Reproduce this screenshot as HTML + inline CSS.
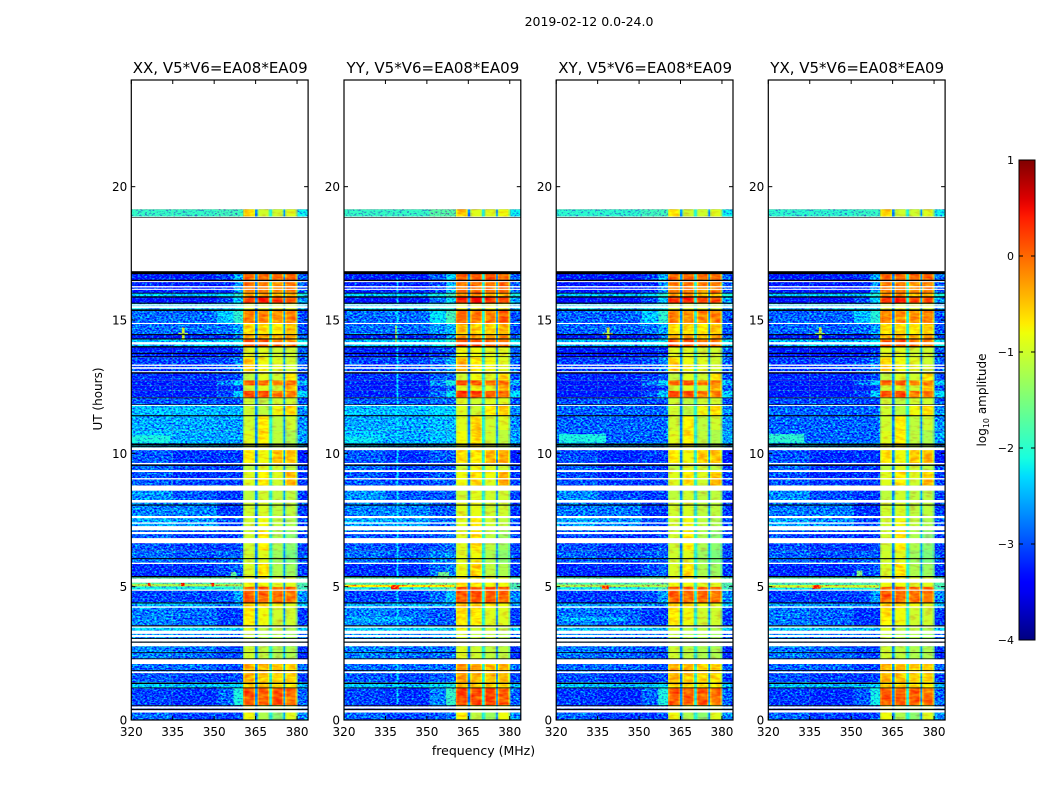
<!DOCTYPE html>
<html>
<head>
<meta charset="utf-8">
<title>2019-02-12 0.0-24.0</title>
<style>
html,body{margin:0;padding:0;background:#fff;}
svg{display:block;font-family:"DejaVu Sans","Liberation Sans",sans-serif;}
text{fill:#000;}
</style>
</head>
<body>
<svg id="fig" xmlns="http://www.w3.org/2000/svg" width="1050" height="800" viewBox="0 0 1050 800">
  <defs>
    <filter id="grain" filterUnits="userSpaceOnUse" x="0" y="0" width="1050" height="800" color-interpolation-filters="sRGB">
      <feTurbulence type="fractalNoise" baseFrequency="0.42 0.6" numOctaves="2" seed="7" result="n"/>
      <feColorMatrix in="n" type="matrix" values="0 0 0 0 0.5  1 0 0 0 0  0 0 0 0 0.5  0 0 0 0 1" result="g"/>
      <feComposite in="SourceGraphic" in2="g" operator="arithmetic" k1="0" k2="1" k3="2.2" k4="-1.1" result="c"/>
      <feComposite in="c" in2="SourceAlpha" operator="in"/>
    </filter>
    <filter id="grainSoft" filterUnits="userSpaceOnUse" x="0" y="0" width="1050" height="800" color-interpolation-filters="sRGB">
      <feTurbulence type="fractalNoise" baseFrequency="0.12 0.35" numOctaves="2" seed="3" result="n"/>
      <feColorMatrix in="n" type="matrix" values="0 0 0 0 0.5  1 0 0 0 0  0 0 0 0 0.5  0 0 0 0 1" result="g"/>
      <feComposite in="SourceGraphic" in2="g" operator="arithmetic" k1="0" k2="1" k3="0.7" k4="-0.35" result="c"/>
      <feComposite in="c" in2="SourceAlpha" operator="in"/>
    </filter>
    <linearGradient id="jetGrad" x1="0" y1="1" x2="0" y2="0"></linearGradient>
  </defs>
  <text x="589" y="26" font-size="12.5" text-anchor="middle">2019-02-12 0.0-24.0</text>
  <text x="483.5" y="755" font-size="12.5" text-anchor="middle">frequency (MHz)</text>
  <text x="0" y="0" font-size="12" text-anchor="middle" transform="translate(102,399) rotate(-90)">UT (hours)</text>
  <text x="0" y="0" font-size="12" text-anchor="middle" transform="translate(986,400) rotate(-90)">log<tspan font-size="8" dy="3">10</tspan><tspan dy="-3"> amplitude</tspan></text>
</svg>
<script>
// ---- chart data ----
const panelTitles = ["XX, V5*V6=EA08*EA09", "YY, V5*V6=EA08*EA09", "XY, V5*V6=EA08*EA09", "YX, V5*V6=EA08*EA09"];
const freqTicks = [320, 335, 350, 365, 380];
const hourTicks = [0, 5, 10, 15, 20];
const cbarTicks = [1, 0, -1, -2, -3, -4];
const cbarTickLabels = ["1", "0", "\u22121", "\u22122", "\u22123", "\u22124"];

// frequency channels (MHz): low band pieces, then the four bright blocks, then the tail
const lowChannels = [[320, 335], [335, 351], [351, 357], [357, 360.5]];
const blockChannels = [[360.5, 364.8], [365.7, 370], [370.9, 375.1], [375.7, 379.9]];
const tailChannel = [380.2, 384];
// log10 amplitude in the narrow gaps between blocks
const gapLevels = [-2.7, -2.1, -2.6, -1.6];

// time bands: hourStart, hourEnd, then log10 amplitude for 4 low channels, 4 blocks, tail
const bands = [
  [0.00, 0.30, -2.4, -2.6, -2.7, -2.6, -0.6, -1.0, -1.2, -0.7, -2.4],
  [0.30, 0.56, -2.6, -2.6, -2.6, -2.6, -0.5, -0.8, -0.9, -0.8, -2.6],
  [0.56, 1.20, -2.6, -2.7, -2.5, -1.7,  0.3,  0.25, 0.3,  0.15,-2.6],
  [1.20, 1.42, -1.9, -2.0, -2.0, -1.9, -0.3, -0.4, -0.4, -0.5, -2.2],
  [1.42, 1.75, -2.5, -2.6, -2.7, -2.6, -0.2, -0.3, -0.4, -0.4, -2.8],
  [1.75, 2.10, -2.4, -2.4, -2.6, -2.6, -0.15,-0.2, -0.3, -0.3, -2.6],
  [2.10, 2.75, -2.3, -2.4, -2.6, -2.6, -0.8, -0.9, -1.0, -1.0, -2.9],
  [2.75, 3.30, -2.2, -2.3, -2.4, -2.4, -0.9, -1.0, -1.0, -1.1, -2.6],
  [3.30, 3.55, -1.9, -1.9, -2.0, -2.1, -0.7, -0.9, -0.9, -1.0, -2.1],
  [3.55, 4.20, -2.3, -2.4, -2.7, -2.7, -0.5, -0.6, -0.8, -0.8, -2.8],
  [4.20, 4.40, -2.1, -2.1, -2.3, -2.3, -0.3, -0.4, -0.6, -0.7, -2.2],
  [4.40, 4.85, -2.6, -2.6, -2.6, -2.2,  0.25, 0.2,  0.2,  0.1, -2.4],
  [4.85, 5.00, -1.7, -1.7, -1.7, -1.5,  0.25, 0.25, 0.25, 0.25,-1.6],
  [5.00, 5.35, -1.3, -1.3, -1.3, -1.3, -0.6, -0.6, -0.7, -0.7, -1.5],
  [5.35, 5.90, -2.7, -2.7, -2.6, -2.5, -0.75,-0.45,-1.0, -1.1, -2.8],
  [5.90, 6.35, -2.4, -2.5, -2.5, -2.5, -0.8, -0.7, -1.1, -1.3, -2.7],
  [6.35, 7.10, -2.5, -2.6, -2.7, -2.6, -0.8, -0.5, -1.0, -1.2, -2.8],
  [7.10, 7.65, -2.1, -2.2, -2.6, -2.6, -0.8, -0.6, -0.9, -1.0, -2.7],
  [7.65, 8.25, -2.3, -2.3, -2.7, -2.7, -0.8, -0.75,-0.9, -0.9, -2.8],
  [8.25, 8.80, -2.2, -2.5, -2.7, -2.7, -0.9, -0.8, -0.9, -0.9, -2.8],
  [8.80, 9.07, -2.5, -2.6, -2.7, -2.7, -0.7, -0.5, -0.8, -0.2, -2.8],
  [9.07, 9.37, -2.5, -2.7, -2.7, -2.7, -0.7, -0.5, -0.7, -0.3, -2.8],
  [9.37, 9.63, -2.4, -2.6, -2.7, -2.7, -0.9, -0.7, -0.8, -0.9, -2.8],
  [9.63, 10.22,-2.5, -2.7, -2.7, -2.7, -0.5, -0.6, -0.3, -0.25,-3.0],
  [10.22,10.87,-2.0, -2.1, -2.2, -2.2, -0.7, -0.5, -0.9, -1.0, -2.3],
  [10.87,11.40,-2.1, -2.1, -2.2, -2.2, -0.8, -0.5, -0.9, -0.8, -2.4],
  [11.40,11.82,-2.0, -2.0, -2.1, -2.1, -0.8, -0.9, -0.6, -0.4, -2.4],
  [11.82,12.10,-2.5, -2.5, -2.6, -2.6, -0.8, -0.9, -0.8, -0.8, -2.7],
  [12.10,12.35,-2.8, -2.8, -2.6, -2.0,  0.35, 0.35, 0.1,  0.1, -2.0],
  [12.35,12.55,-2.8, -2.8, -2.8, -2.7, -0.8, -0.7, -0.8, -0.2, -2.7],
  [12.55,12.74,-2.8, -2.8, -2.4, -1.9,  0.25, 0.25, 0.1,  0.1, -2.2],
  [12.74,13.04,-2.7, -2.7, -2.7, -2.6, -0.9, -0.7, -0.8, -0.5, -2.7],
  [13.04,13.60,-2.6, -2.6, -2.6, -2.3, -0.3, -0.6, -0.7, -0.8, -2.6],
  [13.60,14.00,-2.8, -2.8, -2.8, -2.7, -0.7, -0.7, -0.8, -0.8, -2.6],
  [14.00,14.28,-2.0, -2.0, -2.0, -1.8,  0.3,  0.3,  0.1,  0.1, -1.9],
  [14.28,14.47,-2.8, -2.8, -2.8, -2.4, -0.2, -0.1, -0.2, -0.1, -2.6],
  [14.47,14.88,-2.4, -2.4, -2.4, -2.2, -0.4, -0.4, -0.5, -0.3, -2.7],
  [14.88,15.37,-2.4, -2.4, -2.0, -1.6,  0.1,  0.0,  0.0,  0.1, -2.7],
  [15.37,15.62,-1.9, -1.9, -1.9, -1.8, -0.7, -0.7, -0.7, -0.7, -2.2],
  [15.62,15.86,-2.9, -2.9, -2.6, -2.0,  0.5,  0.6,  0.4,  0.3, -2.3],
  [15.86,16.00,-1.9, -2.0, -1.9, -1.6, -0.1,  0.0, -0.2, -0.2, -1.8],
  [16.00,16.45,-2.8, -2.8, -2.8, -2.2,  0.1,  0.1,  0.0,  0.1, -2.6],
  [16.45,16.75,-2.8, -2.8, -2.7, -2.1,  0.2,  0.2,  0.2,  0.2, -2.6],
  [18.88,19.15,-1.5, -1.5, -1.5, -1.5, -0.4, -0.8, -0.8, -0.7, -1.9]
];
// per-panel adjustment of each channel group
const panelLowOffsets = [-0.45, -0.45, -0.5, -0.5];
const panelBlockOffsets = [-0.2, -0.1, -0.2, -0.2];
const panelShoulderOffsets = [-0.4, -0.25, -0.4, -0.45];
const panelTailOffsets = [-0.3, -0.3, -0.3, -0.3];

// flagged time ranges (hours) without data
const whiteBands = [
  [16.42,16.46],[16.22,16.27],[16.13,16.17],[15.54,15.59],[15.44,15.52],[14.85,14.89],[14.08,14.17],
  [13.28,13.33],[13.17,13.23],[13.04,13.08],[11.78,11.82],[10.12,10.22],[9.59,9.64],[9.30,9.37],
  [9.02,9.07],[8.60,8.79],[8.15,8.25],[7.57,7.65],[7.36,7.41],[7.12,7.27],[6.97,7.05],[6.63,6.82],
  [5.85,5.90],[5.15,5.30],[4.85,4.89],[4.21,4.26],[3.46,3.51],[3.23,3.35],[3.11,3.19],[2.94,3.04],
  [2.77,2.90],[2.10,2.28],[1.76,1.82],[0.43,0.51],[0.28,0.37]
];
// black scan-boundary lines (hours)
const blackBands = [
  [18.84,18.86],[16.72,16.83],[16.46,16.51],[15.99,16.02],[15.84,15.89],[15.61,15.65],[15.34,15.40],
  [14.43,14.47],[14.27,14.31],[13.97,14.02],[13.73,13.77],[13.61,13.64],[12.99,13.04],[12.07,12.09],
  [11.82,11.84],[11.39,11.43],[10.29,10.37],[10.23,10.27],[9.53,9.58],[8.04,8.08],[6.03,6.07],
  [5.35,5.40],[4.37,4.41],[3.51,3.55],[3.04,3.07],[2.90,2.94],[2.51,2.54],[2.28,2.31],[1.84,1.87],
  [1.35,1.40],[1.19,1.22],[0.52,0.55],[0.37,0.42]
];
// localised features: panel, fStart, fEnd, hourStart, hourEnd, log10 amplitude
const features = [
  [2, 320, 360, 10.40, 11.82, -2.9], [3, 320, 360, 10.40, 11.82, -2.9],
  [0, 320, 334, 10.40, 10.68, -2.1], [1, 320, 332, 10.40, 10.62, -2.2],
  [2, 321, 338, 10.40, 10.72, -2.1], [3, 320, 333, 10.40, 10.72, -2.0],
  [0, 338.3, 339.3, 14.25, 14.72, -1.0], [0, 337, 340.5, 14.44, 14.52, -1.3],
  [1, 338.6, 339.5, 14.10, 14.80, -0.9],
  [2, 338.3, 339.3, 14.25, 14.72, -1.0], [2, 337, 340.5, 14.44, 14.52, -1.3],
  [3, 338.3, 339.3, 14.25, 14.72, -1.0], [3, 337, 340.5, 14.44, 14.52, -1.3],
  [1, 339, 339.7, 0.60, 16.60, -2.3],
  [1, 320, 360, 4.98, 5.07, -0.7], [2, 320, 360, 4.98, 5.08, -1.2], [3, 320, 360, 4.96, 5.06, -1.0],
  [0, 320, 360, 5.02, 5.10, -1.2],
  [1, 337, 340, 4.90, 5.05, 0.3], [2, 336.5, 339, 4.90, 5.05, 0.3], [3, 336, 339, 4.92, 5.06, 0.3],
  [0, 326, 327, 5.02, 5.14, 0.5], [0, 338, 339.3, 5.02, 5.14, 0.5], [0, 349, 350, 5.02, 5.14, 0.4],
  [0, 356, 358, 5.35, 5.55, -1.7], [1, 354, 358, 5.35, 5.55, -1.6], [3, 352, 354, 5.40, 5.60, -1.5],
  [0, 322, 345, 4.30, 4.42, -2.4], [1, 322, 345, 3.70, 3.85, -2.5], [2, 322, 345, 3.70, 3.85, -2.5]
];

// ---- layout ----
const panelLefts = [131.3, 344, 556.2, 768.3];
const panelWidth = 176.8;
const axTop = 80, axBottom = 720;
const cbar = {x: 1019, w: 16, top: 160, bottom: 640, lo: -4, hi: 1};
const svg = document.getElementById('fig');
const NS = 'http://www.w3.org/2000/svg';

function xScale(panel, f) { return panelLefts[panel] + (f - 320) / 64 * panelWidth; }
function yScale(h) { return axBottom - h / 24 * (axBottom - axTop); }
function interp(pts, t) {
  for (let i = 1; i < pts.length; i++) {
    if (t <= pts[i][0]) {
      const a = pts[i - 1], b = pts[i];
      return a[1] + (b[1] - a[1]) * (t - a[0]) / (b[0] - a[0]);
    }
  }
  return pts[pts.length - 1][1];
}
function jet(v) {
  const t = Math.max(0, Math.min(1, (v - cbar.lo) / (cbar.hi - cbar.lo)));
  const r = interp([[0,0],[.35,0],[.66,1],[.89,1],[1,.5]], t);
  const g = interp([[0,0],[.125,0],[.375,1],[.64,1],[.91,0],[1,0]], t);
  const b = interp([[0,.5],[.11,1],[.34,1],[.65,0],[1,0]], t);
  return 'rgb(' + Math.round(r * 255) + ',' + Math.round(g * 255) + ',' + Math.round(b * 255) + ')';
}
function make(tag, attrs, parent) {
  const el = document.createElementNS(NS, tag);
  for (const k in attrs) el.setAttribute(k, attrs[k]);
  parent.appendChild(el);
  return el;
}
function cell(parent, panel, f0, f1, h0, h1, fill) {
  const x0 = xScale(panel, f0), x1 = xScale(panel, f1), y0 = yScale(h1), y1 = yScale(h0);
  return make('rect', {x: x0, y: y0, width: x1 - x0, height: Math.max(y1 - y0, 0.6), fill: fill}, parent);
}

panelTitles.forEach(function (title, p) {
  const panel = make('g', {}, svg);
  
  

  const lowGroup = make('g', {filter: 'url(#grain)'}, panel);
  
  
  const highGroup = make('g', {filter: 'url(#grainSoft)'}, panel);
  
  

  bands.forEach(function (b) {
    const h0 = b[0], h1 = b[1];
    lowChannels.forEach(function (ch, i) {
      const v = b[2 + i] + (i >= 2 ? panelShoulderOffsets[p] : panelLowOffsets[p]);
      const c = cell(lowGroup, p, ch[0], ch[1], h0, h1, jet(v));
      
      
    });
    const t = cell(lowGroup, p, tailChannel[0], tailChannel[1], h0, h1, jet(b[10] + panelTailOffsets[p]));
    
    
    blockChannels.forEach(function (ch, i) {
      const v = b[6 + i] + panelBlockOffsets[p];
      const w = cell(highGroup, p, ch[0], ch[1], h0, h1, jet(v - 0.35));
      
      
      const c = cell(highGroup, p, ch[0] + 0.5, ch[1] - 0.5, h0, h1, jet(v));
      
      
      const gapEnd = i < 3 ? blockChannels[i + 1][0] : tailChannel[0];
      const g = cell(highGroup, p, ch[1], gapEnd, h0, h1, jet(gapLevels[i]));
      
      
    });
  });

  features.filter(function (f) { return f[0] === p; }).forEach(function (f) {
    const c = cell(lowGroup, p, f[1], f[2], f[3], f[4], jet(f[5]));
    
    
  });

  whiteBands.forEach(function (b) {
    const c = cell(panel, p, 320, 384, b[0], b[1], '#fff');
    
    
  });
  blackBands.forEach(function (b) {
    const c = cell(panel, p, 320, 384, b[0], b[1], '#000');
    
    
  });

  const x0 = panelLefts[p], x1 = x0 + panelWidth;
  const frame = make('rect', {x: x0, y: axTop, width: panelWidth, height: axBottom - axTop, fill: 'none', stroke: '#000', 'stroke-width': 1.2}, panel);
  
  

  const ttl = make('text', {x: (x0 + x1) / 2 + 0.5, y: 73, 'font-size': 15, 'text-anchor': 'middle'}, panel);
  ttl.textContent = title;
  
  

  hourTicks.forEach(function (h) {
    const y = yScale(h);
    const a = make('line', {x1: x0, x2: x0 + 4, y1: y, y2: y, stroke: '#000'}, panel);
    
    
    const r = make('line', {x1: x1 - 4, x2: x1, y1: y, y2: y, stroke: '#000'}, panel);
    
    
    const l = make('text', {x: x0 - 4, y: y + 4.5, 'font-size': 12, 'text-anchor': 'end'}, panel);
    l.textContent = h;
    
    
  });
  freqTicks.forEach(function (f) {
    const x = xScale(p, f);
    const a = make('line', {x1: x, x2: x, y1: axBottom - 4, y2: axBottom, stroke: '#000'}, panel);
    
    
    const t = make('line', {x1: x, x2: x, y1: axTop, y2: axTop + 4, stroke: '#000'}, panel);
    
    
    const l = make('text', {x: x, y: 736, 'font-size': 12, 'text-anchor': 'middle'}, panel);
    l.textContent = f;
    
    
  });
});

// ---- colorbar ----
const grad = document.getElementById('jetGrad');
for (let i = 0; i <= 50; i++) {
  const stop = make('stop', {offset: (i / 50), 'stop-color': jet(cbar.lo + (cbar.hi - cbar.lo) * i / 50)}, grad);
  
  
}
const cbGroup = make('g', {}, svg);


const cbRect = make('rect', {x: cbar.x, y: cbar.top, width: cbar.w, height: cbar.bottom - cbar.top, fill: 'url(#jetGrad)', stroke: '#000', 'stroke-width': 1}, cbGroup);


cbarTicks.forEach(function (v, i) {
  const y = cbar.bottom - (v - cbar.lo) / (cbar.hi - cbar.lo) * (cbar.bottom - cbar.top);
  const a = make('line', {x1: cbar.x, x2: cbar.x + 4, y1: y, y2: y, stroke: '#000'}, cbGroup);
  
  
  const b = make('line', {x1: cbar.x + cbar.w - 4, x2: cbar.x + cbar.w, y1: y, y2: y, stroke: '#000'}, cbGroup);
  
  
  const l = make('text', {x: cbar.x - 5, y: y + 4, 'font-size': 11, 'text-anchor': 'end'}, cbGroup);
  l.textContent = cbarTickLabels[i];
  
  
});
</script>
</body>
</html>
